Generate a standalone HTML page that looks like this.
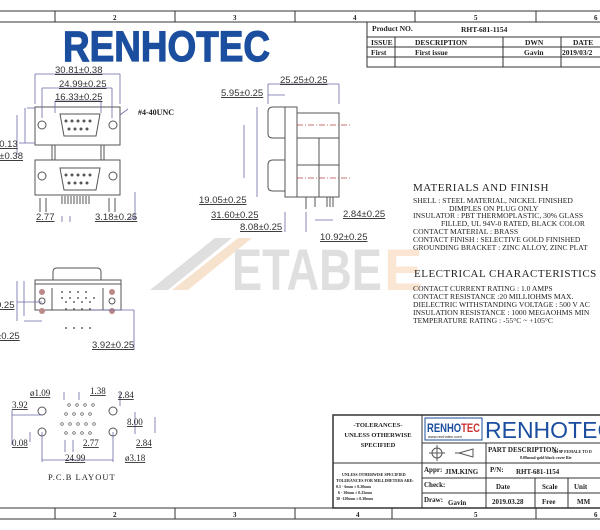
<!DOCTYPE html>
<html><head><meta charset="utf-8"><style>
body{margin:0;background:#fff}
svg{display:block}
text{font-family:"Liberation Serif",serif;fill:#222}
.d{font-family:"Liberation Sans",sans-serif;font-size:9.5px;fill:#333;text-decoration:underline}
.m{font-size:7.6px;font-family:"Liberation Mono",monospace;fill:#222}
.b{font-weight:bold}
.s{font-family:"Liberation Sans",sans-serif}
</style></head><body>
<svg width="600" height="530" viewBox="0 0 600 530" xmlns="http://www.w3.org/2000/svg">
<!-- watermark -->
<g opacity="0.3">
<polygon points="150,290 215,238 232,238 168,290" fill="#999"/>
<polygon points="172,290 238,238 252,238 188,290" fill="#e8a060"/>
<text class="s" x="232" y="290" font-size="58" style="fill:#999;font-weight:bold" textLength="150" lengthAdjust="spacingAndGlyphs">ETABE</text>
<text class="s" x="384" y="290" font-size="58" style="fill:#f0b070;font-weight:bold">E</text>
</g>
<!-- rulers -->
<g stroke="#333" stroke-width="1" fill="none">
<rect x="-1" y="11" width="602" height="11"/>
<rect x="-1" y="508" width="602" height="11"/>
<path d="M55 11V22M175 11V22M295 11V22M415 11V22M536 11V22M55 508V519M175 508V519M295 508V519M392 508V519M536 508V519"/>
</g>
<g font-size="7" class="b"><text x="113" y="20">2</text><text x="233" y="20">3</text><text x="353" y="20">4</text><text x="474" y="20">5</text><text x="594" y="20">6</text>
<text x="113" y="517">2</text><text x="233" y="517">3</text><text x="356" y="517">4</text><text x="474" y="517">5</text><text x="594" y="517">6</text></g>
<!-- product table -->
<g stroke="#333" fill="none"><rect x="367" y="22" width="240" height="45"/><path d="M367 37H600M367 47H600M367 57H600M395 37V67M503 37V67M561 37V67"/></g>
<g font-size="7.5" class="b"><text x="372" y="31">Product NO.</text><text x="461" y="32">RHT-681-1154</text>
<text x="371" y="45">ISSUE</text><text x="415" y="45">DESCRIPTION</text><text x="525" y="45">DWN</text><text x="573" y="45">DATE</text>
<text x="371" y="55">First</text><text x="415" y="55">First issue</text><text x="524" y="55">Gavin</text><text x="562" y="55">2019/03/2</text></g>
<!-- logo -->
<text class="s" x="63" y="61" font-size="43" style="fill:#1b4e9e;font-weight:bold" stroke="#1b4e9e" stroke-width="1.2" textLength="207" lengthAdjust="spacingAndGlyphs">RENHOTEC</text>
<!-- front view -->
<g stroke="#555" fill="none" stroke-width="1">
<rect x="35" y="107" width="85" height="38"/><rect x="35" y="160" width="85" height="35"/>
<path d="M52 145V160M104 145V160M55 145V160M101 145V160"/>
<path d="M60 114h40l-4 22h-32z"/><path d="M60 168h40l-4 22h-32z"/>
<circle cx="42" cy="125" r="4"/><circle cx="113" cy="125" r="4"/><circle cx="42" cy="176" r="4"/><circle cx="113" cy="176" r="4"/>
<path d="M40 198v14M46 198v14M109 198v14M115 198v14M62 196v8M65 196v8M68 196v8M71 196v8M74 196v8M77 196v8M80 196v8M83 196v8M86 196v8M89 196v8"/>
</g>
<g fill="#555"><circle cx="66" cy="121" r="1.5"/><circle cx="72" cy="121" r="1.5"/><circle cx="78" cy="121" r="1.5"/><circle cx="84" cy="121" r="1.5"/><circle cx="90" cy="121" r="1.5"/><circle cx="69" cy="129" r="1.5"/><circle cx="75" cy="129" r="1.5"/><circle cx="81" cy="129" r="1.5"/><circle cx="87" cy="129" r="1.5"/>
<circle cx="66" cy="175" r="1.5"/><circle cx="72" cy="175" r="1.5"/><circle cx="78" cy="175" r="1.5"/><circle cx="84" cy="175" r="1.5"/><circle cx="90" cy="175" r="1.5"/><circle cx="69" cy="183" r="1.5"/><circle cx="75" cy="183" r="1.5"/><circle cx="81" cy="183" r="1.5"/><circle cx="87" cy="183" r="1.5"/></g>
<g stroke="#6a6aa8" fill="none" stroke-width="0.8">
<path d="M35 74H120M42 88H112M55 101H101M35 74v30M120 74v30M42 88v30M112 88v30M55 101v12M101 101v12"/>
<path d="M25 108v35M17 115v40M27 108h8M19 143h16M135 192v28M128 218h8M62 216v6M70 216v6M120 115l8-6"/>
</g>
<text class="d" x="55" y="73">30.81±0.38</text><text class="d" x="59" y="87">24.99±0.25</text><text class="d" x="55" y="100">16.33±0.25</text>
<text x="138" y="115" font-size="8" class="b">#4-40UNC</text>
<text class="d" x="-6" y="147">±0.13</text><text class="d" x="-6" y="159">5±0.38</text>
<text class="d" x="36" y="220">2.77</text><text class="d" x="95" y="220">3.18±0.25</text>
<!-- side view -->
<g stroke="#555" fill="none">
<rect x="285" y="107" width="12" height="90"/><rect x="297" y="113" width="42" height="84"/>
<path d="M285 107h-12q-5 0-5 5v22q0 4 5 4h12M285 160h-12q-5 0-5 5v22q0 4 5 4h12M297 138h42M297 165h42M319 138v59"/>
<path d="M306 197v12M315 197v10M327 197v10M330 197v10M333 197v10"/>
</g>
<path d="M297 125H350M297 178H350" stroke="#b44" stroke-dasharray="6 2 1 2" stroke-width="0.7"/>
<g stroke="#6a6aa8" fill="none" stroke-width="0.8"><path d="M268 84H339M268 95H285M257 107v90M244 125v53M285 212v20M306 212v20M315 220h18M268 84v20M339 84v20"/></g>
<text class="d" x="280" y="83">25.25±0.25</text><text class="d" x="221" y="96">5.95±0.25</text>
<text class="d" x="199" y="203">19.05±0.25</text><text class="d" x="211" y="218">31.60±0.25</text><text class="d" x="240" y="230">8.08±0.25</text>
<text class="d" x="343" y="217">2.84±0.25</text><text class="d" x="320" y="240">10.92±0.25</text>
<!-- bottom view -->
<g stroke="#555" fill="none">
<path d="M53 280v-8q0-4 4-4h40q4 0 4 4v8"/><rect x="35" y="280" width="86" height="4"/><rect x="35" y="284" width="86" height="26"/>
<path d="M52 288v22M103 288v22"/>
<circle cx="42" cy="301" r="3"/><circle cx="112" cy="301" r="3"/>
</g>
<g fill="#b88"><circle cx="42" cy="292" r="3"/><circle cx="112" cy="292" r="3"/><circle cx="42" cy="311" r="3"/><circle cx="112" cy="311" r="3"/></g>
<g fill="#666"><circle cx="66" cy="302" r="1"/><circle cx="74" cy="302" r="1"/><circle cx="82" cy="302" r="1"/><circle cx="90" cy="302" r="1"/><circle cx="66" cy="309" r="1"/><circle cx="74" cy="309" r="1"/><circle cx="82" cy="309" r="1"/><circle cx="90" cy="309" r="1"/><circle cx="62" cy="292" r="1"/><circle cx="70" cy="292" r="1"/><circle cx="78" cy="292" r="1"/><circle cx="86" cy="292" r="1"/><circle cx="62" cy="298" r="1"/><circle cx="70" cy="298" r="1"/><circle cx="78" cy="298" r="1"/><circle cx="86" cy="298" r="1"/><circle cx="94" cy="298" r="1"/><circle cx="66" cy="328" r="1"/><circle cx="74" cy="328" r="1"/><circle cx="82" cy="328" r="1"/><circle cx="90" cy="328" r="1"/></g>
<g stroke="#6a6aa8" fill="none" stroke-width="0.8"><path d="M17 281v40M24 281v35M17 302h25M24 321h18M134 310v40M90 310H134"/></g>
<text class="d" x="-4" y="308">0.25</text><text class="d" x="-4" y="339">±0.25</text><text class="d" x="92" y="348">3.92±0.25</text>
<!-- pcb layout -->
<g fill="none" stroke="#555"><circle cx="42" cy="411" r="4"/><circle cx="113" cy="411" r="4"/><circle cx="42" cy="432" r="4"/><circle cx="113" cy="432" r="4"/></g>
<g fill="none" stroke="#555" stroke-width="0.7">
<circle cx="69" cy="405" r="1.3"/><circle cx="77" cy="405" r="1.3"/><circle cx="85" cy="405" r="1.3"/><circle cx="93" cy="405" r="1.3"/>
<circle cx="66" cy="414" r="1.3"/><circle cx="74" cy="414" r="1.3"/><circle cx="82" cy="414" r="1.3"/><circle cx="90" cy="414" r="1.3"/>
<circle cx="62" cy="424" r="1.3"/><circle cx="70" cy="424" r="1.3"/><circle cx="78" cy="424" r="1.3"/><circle cx="86" cy="424" r="1.3"/><circle cx="94" cy="424" r="1.3"/>
<circle cx="66" cy="433" r="1.3"/><circle cx="74" cy="433" r="1.3"/><circle cx="82" cy="433" r="1.3"/><circle cx="90" cy="433" r="1.3"/></g>
<g stroke="#6a6aa8" fill="none" stroke-width="0.8"><path d="M12 410v35M12 415H42M30 432v10M42 432v30M113 432v30M42 460H113M135 412v22M155 417v16M64 392v8M79 392v8M120 392v14M65 440v12M73 440v12"/></g>
<g class="d" style="font-size:9px"><text x="30" y="396">ø1.09</text><text x="90" y="394">1.38</text><text x="118" y="398">2.84</text><text x="12" y="408">3.92</text><text x="127" y="425">8.00</text><text x="12" y="446">0.08</text><text x="83" y="446">2.77</text><text x="136" y="446">2.84</text><text x="65" y="461">24.99</text><text x="125" y="461">ø3.18</text></g>
<text x="48" y="480" font-size="8.5" letter-spacing="1">P.C.B LAYOUT</text>
<!-- materials -->
<text x="413" y="191" font-size="11" letter-spacing="0.5">MATERIALS AND FINISH</text>
<g class="m"><text x="413" y="203">SHELL : STEEL MATERIAL, NICKEL FINISHED</text><text x="449" y="211">DIMPLES  ON PLUG ONLY</text><text x="413" y="218">INSULATOR : PBT THERMOPLASTIC, 30% GLASS</text><text x="441" y="226">FILLED, UL 94V-0 RATED, BLACK COLOR</text><text x="413" y="234">CONTACT MATERIAL : BRASS</text><text x="413" y="242">CONTACT FINISH : SELECTIVE GOLD FINISHED</text><text x="413" y="250">GROUNDING BRACKET : ZINC ALLOY, ZINC PLAT</text></g>
<text x="414" y="277" font-size="11" letter-spacing="0.5">ELECTRICAL CHARACTERISTICS</text>
<g class="m"><text x="413" y="291">CONTACT CURRENT RATING : 1.0 AMPS</text><text x="413" y="299">CONTACT RESISTANCE :20 MILLIOHMS MAX.</text><text x="413" y="307">DIELECTRIC WITHSTANDING VOLTAGE : 500 V AC</text><text x="413" y="315">INSULATION RESISTANCE : 1000 MEGAOHMS MIN</text><text x="413" y="323">TEMPERATURE RATING : -55°C ~ +105°C</text></g>
<!-- title block -->
<g stroke="#333" fill="none"><rect x="333" y="415" width="270" height="93" stroke-width="1.5"/>
<path d="M333 463H422M422 415V508M422 443H600M486 443V508M422 463H600M422 478H600M422 493H600M535 478V508M568 478V508"/>
<rect x="425" y="418" width="57" height="22" stroke="#1b4e9e"/></g>
<text class="s" x="427" y="432" font-size="12" style="fill:#1b4e9e;font-weight:bold" textLength="53" lengthAdjust="spacingAndGlyphs">RENHO<tspan style="fill:#c33">TEC</tspan></text>
<text class="s" x="428" y="438" font-size="4">www.renhotec.com</text>
<text class="s" x="485" y="438" font-size="23" style="fill:#1b4e9e">RENHOTEC G</text>
<g stroke="#555" fill="none"><circle cx="437" cy="453" r="5"/><path d="M429 453h16M437 445v16M455 453h4l14-4v8l-14-4"/></g>
<g font-size="6.5" class="b"><text x="378" y="427" text-anchor="middle">-TOLERANCES-</text><text x="378" y="437" text-anchor="middle">UNLESS OTHERWISE</text><text x="378" y="447" text-anchor="middle">SPECIFIED</text>
<text x="488" y="452" font-size="7">PART DESCRIPTION:</text><text x="553" y="453" font-size="4">2R 9P FEMALE TO D</text><text x="520" y="459" font-size="4">8.08mm4-gold black cover Riv</text>
<text x="424" y="472" font-size="7">Appr:</text><text x="445" y="474" font-size="7">JIM.KING</text><text x="490" y="472" font-size="7">P/N:</text><text x="516" y="474" font-size="7">RHT-681-1154</text>
<text x="424" y="487" font-size="7">Check:</text><text x="496" y="489" font-size="7">Date</text><text x="542" y="489" font-size="7">Scale</text><text x="574" y="489" font-size="7">Unit</text>
<text x="424" y="502" font-size="7">Draw:</text><text x="448" y="505" font-size="7">Gavin</text><text x="492" y="504" font-size="7">2019.03.28</text><text x="542" y="504" font-size="7">Free</text><text x="577" y="504" font-size="7">MM</text>
<text x="342" y="476" font-size="4">UNLESS OTHERWISE SPECIFIED</text><text x="336" y="482" font-size="4">TOLERANCES FOR MILLIMETERS ARE:</text><text x="336" y="488" font-size="4">0.5 - 6mm ± 0.20mm</text><text x="338" y="494" font-size="4">6 - 30mm ± 0.25mm</text><text x="336" y="500" font-size="4">30 -120mm ± 0.30mm</text></g>
</svg>
</body></html>
